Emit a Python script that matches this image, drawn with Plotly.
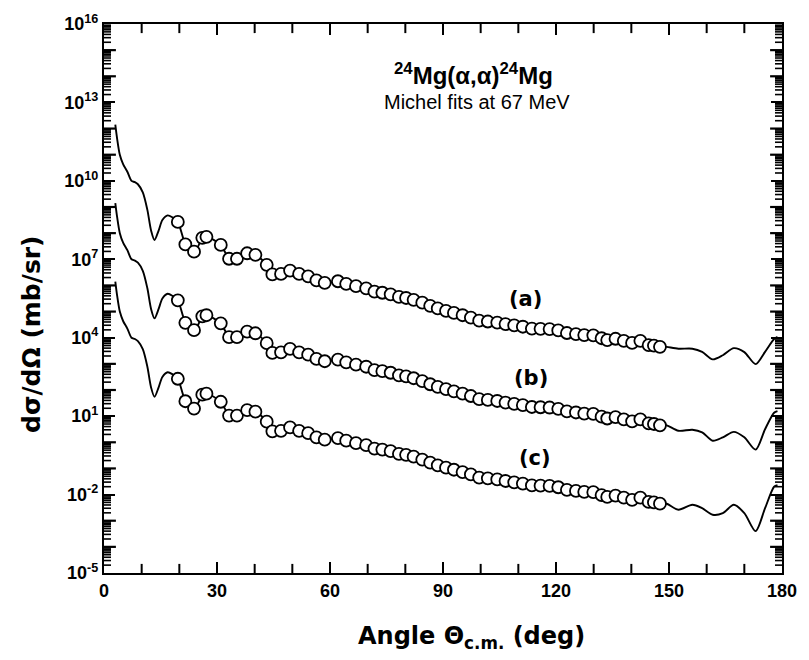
import numpy as np
import plotly.graph_objects as go

# Measured 24Mg(alpha,alpha) cross sections at 67 MeV, curve (a) normalisation
# angle in degrees (c.m.), value given as log10(dsigma/dOmega in mb/sr)
DATA_ANGLE = [19.6, 21.6, 23.9, 26.1, 27.2, 31.0, 33.2, 35.3, 38.0, 40.2,
              43.2, 44.7, 47.0, 49.4, 51.8, 54.2, 56.4, 58.6, 62.1, 64.3,
              66.9, 69.6, 71.8, 73.9, 76.1, 78.3, 80.2, 82.2, 84.5, 86.6,
              88.6, 90.8, 92.9, 95.2, 97.4, 99.6, 101.9, 104.4, 106.6, 108.9,
              111.2, 113.6, 115.9, 118.3, 120.6, 122.9, 125.3, 127.5, 129.9, 132.1,
              133.6, 135.8, 138.0, 140.2, 142.4, 144.6, 146.0, 147.6]
DATA_LOGXS = [8.43, 7.57, 7.29, 7.82, 7.86, 7.55, 7.02, 7.02, 7.23, 7.17,
              6.79, 6.42, 6.44, 6.57, 6.44, 6.35, 6.19, 6.10, 6.16, 6.06,
              5.97, 5.89, 5.76, 5.72, 5.66, 5.56, 5.52, 5.45, 5.34, 5.22,
              5.12, 5.03, 4.95, 4.86, 4.77, 4.65, 4.62, 4.58, 4.52, 4.47,
              4.42, 4.35, 4.34, 4.33, 4.28, 4.18, 4.14, 4.10, 4.09, 3.98,
              3.91, 3.96, 3.88, 3.80, 3.88, 3.72, 3.70, 3.65]

# Michel optical-model fits (log10, same normalisation as curve (a))
FIT_FRONT_ANGLE = [3.0, 3.5, 4.2, 5.1, 6.2, 7.3, 8.2, 9.0, 10.3, 11.5,
                   12.5, 13.4, 14.5, 15.5, 16.9, 18.2, 19.6, 21.6, 23.9, 25.0,
                   26.1, 27.2, 29.0, 31.0, 33.2, 35.3, 38.0, 40.2, 43.2, 44.7,
                   47.0, 49.4, 51.8, 54.2, 58.6, 62.1, 66.9, 71.8, 76.1, 81.8,
                   87.5, 92.8, 98.1, 104.2, 110.3, 116.5, 123.5, 130.1, 135.8, 142.4,
                   147.6, 149.4]
FIT_FRONT_LOG = [12.15, 11.6, 11.0, 10.63, 10.35, 10.0, 9.95, 9.87, 9.56, 8.9,
                 8.1, 7.74, 8.1, 8.5, 8.68, 8.6, 8.43, 7.6, 7.3, 7.5,
                 7.82, 7.86, 7.75, 7.55, 7.05, 7.05, 7.23, 7.17, 6.79, 6.45,
                 6.45, 6.55, 6.44, 6.35, 6.12, 6.13, 5.97, 5.77, 5.66, 5.47,
                 5.16, 4.93, 4.74, 4.59, 4.43, 4.34, 4.17, 4.05, 3.94, 3.83,
                 3.68, 3.65]

FIT_BACK_ANGLE = [152.5, 156.2, 158.8, 161.6, 164.3, 167.2, 170.0, 173.0, 175.5, 177.9, 178.8]
FIT_BACK_LOG_A = [3.58, 3.58, 3.46, 3.17, 3.33, 3.60, 3.45, 2.99, 3.46, 3.95, 4.03]
FIT_BACK_LOG_B = [3.44, 3.48, 3.38, 3.06, 3.19, 3.40, 3.19, 2.72, 3.50, 4.13, 4.19]
FIT_BACK_LOG_C = [3.42, 3.61, 3.48, 3.23, 3.29, 3.61, 3.29, 2.60, 3.48, 4.30, 4.36]

# display offsets between the three curves
CURVES = [("(a)", 1.0, FIT_BACK_LOG_A), ("(b)", 1e-3, FIT_BACK_LOG_B), ("(c)", 1e-6, FIT_BACK_LOG_C)]
CURVE_LABEL_POS = [(111.8, 5.5), (113.3, 2.45), (114.5, -0.6)]

X_RANGE = [0, 180]
Y_EXP_RANGE = [-5, 16]
X_TICKS = [0, 30, 60, 90, 120, 150, 180]
X_MINOR = [10, 20, 40, 50, 70, 80, 100, 110, 130, 140, 160, 170]
Y_LABEL_EXP = [-5, -2, 1, 4, 7, 10, 13, 16]

FONT = "Liberation Sans"
WIDE_FONT = "DejaVu Sans"

fig = go.Figure()

for (label, scale, back_log), (lx, ly) in zip(CURVES, CURVE_LABEL_POS):
    fit_x = FIT_FRONT_ANGLE + FIT_BACK_ANGLE
    fit_y = [10 ** v * scale for v in FIT_FRONT_LOG + back_log]
    fig.add_trace(go.Scatter(
        x=fit_x, y=fit_y, mode="lines",
        line=dict(color="black", width=1.9, shape="spline", smoothing=0.8),
        hoverinfo="skip", showlegend=False))
    fig.add_trace(go.Scatter(
        x=DATA_ANGLE, y=[10 ** v * scale for v in DATA_LOGXS], mode="markers",
        marker=dict(symbol="circle", size=12, color="white",
                    line=dict(color="black", width=1.8)),
        showlegend=False))
    fig.add_annotation(x=lx, y=ly, xref="x", yref="y", text=f"<b>{label}</b>",
                       showarrow=False, font=dict(size=21, color="black", family=WIDE_FONT))

# secondary tick marks along the frame, drawn as clipped line markers so only
# the half inside the frame shows
decade_vals = [10.0 ** e for e in range(Y_EXP_RANGE[0], Y_EXP_RANGE[1] + 1) if e not in Y_LABEL_EXP]
sub_vals = [m * 10.0 ** e for e in range(Y_EXP_RANGE[0], Y_EXP_RANGE[1]) for m in range(2, 10)]
for edge in X_RANGE:
    fig.add_trace(go.Scatter(
        x=[edge] * len(decade_vals), y=decade_vals, mode="markers", cliponaxis=True,
        marker=dict(symbol="line-ew", size=17, line=dict(color="black", width=2.2)),
        hoverinfo="skip", showlegend=False))
    fig.add_trace(go.Scatter(
        x=[edge] * len(sub_vals), y=sub_vals, mode="markers", cliponaxis=True,
        marker=dict(symbol="line-ew", size=10, line=dict(color="black", width=1.6)),
        hoverinfo="skip", showlegend=False))
for edge in Y_EXP_RANGE:
    fig.add_trace(go.Scatter(
        x=X_MINOR, y=[10.0 ** edge] * len(X_MINOR), mode="markers", cliponaxis=True,
        marker=dict(symbol="line-ns", size=13, line=dict(color="black", width=2)),
        hoverinfo="skip", showlegend=False))

fig.add_annotation(x=0.545, y=0.94, xref="paper", yref="paper",
                   text="<b><sup>24</sup>Mg(α,α)<sup>24</sup>Mg</b>",
                   showarrow=False, font=dict(size=24, color="black", family=FONT))
fig.add_annotation(x=0.55, y=0.882, xref="paper", yref="paper",
                   text="Michel fits at 67 MeV",
                   showarrow=False, font=dict(size=20, color="black", family=FONT))

# axis titles
fig.add_annotation(x=0.542, y=-0.117, xref="paper", yref="paper",
                   xanchor="center", yanchor="middle",
                   text="<b>Angle Θ<sub>c.m.</sub> (deg)</b>", showarrow=False,
                   font=dict(size=24, color="black", family=WIDE_FONT))
fig.add_annotation(x=-0.108, y=0.435, xref="paper", yref="paper", textangle=-90,
                   xanchor="center", yanchor="middle",
                   text="<b>dσ/dΩ (mb/sr)</b>", showarrow=False,
                   font=dict(size=25, color="black", family=WIDE_FONT))

axis_common = dict(showline=True, linewidth=2.4, linecolor="black", mirror="ticks",
                   showgrid=False, zeroline=False, tickcolor="black")

fig.update_layout(
    width=809, height=660,
    margin=dict(l=104, r=21, t=16, b=87),
    paper_bgcolor="white", plot_bgcolor="white",
    font=dict(family=FONT, color="black"),
    xaxis=dict(
        range=X_RANGE, tickvals=X_TICKS,
        ticktext=[f"<b>{v}</b>" for v in X_TICKS],
        ticks="inside", ticklen=11, tickwidth=2.2,
        tickfont=dict(size=18, family=FONT),
        **axis_common,
    ),
    yaxis=dict(
        type="log", range=Y_EXP_RANGE,
        tickvals=[10.0 ** e for e in Y_LABEL_EXP],
        ticktext=[f"<b>10<sup>{e}</sup></b>" for e in Y_LABEL_EXP],
        ticks="inside", ticklen=11, tickwidth=2.2,
        tickfont=dict(size=18, family=FONT),
        **axis_common,
    ),
)

fig.write_html("out.html")
